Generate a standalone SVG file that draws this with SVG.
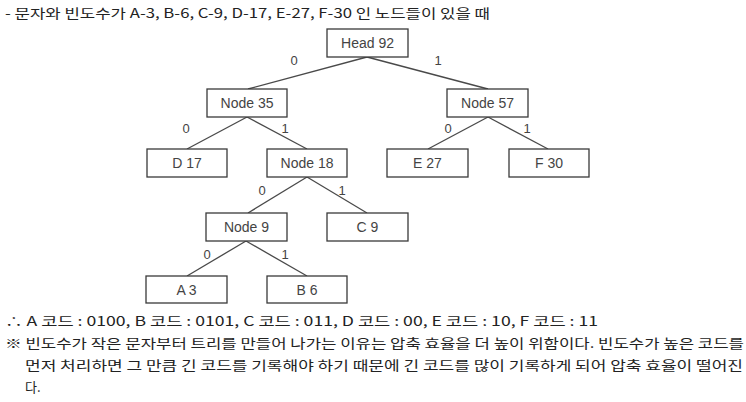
<svg xmlns="http://www.w3.org/2000/svg" width="746" height="402" viewBox="0 0 746 402">
<style>
.box{fill:#fff;stroke:#3a3a3a;stroke-width:1.3}
.lbl{font-family:"Liberation Sans",Arial,sans-serif;font-size:14px;fill:#444;text-anchor:middle}
.bit{font-family:"Liberation Sans",Arial,sans-serif;font-size:13px;fill:#444;text-anchor:middle}
.edge{stroke:#4a4a4a;stroke-width:1.3;fill:none}
.kr{font-family:"Noto Sans CJK KR","DejaVu Sans",sans-serif;font-size:13px;fill:#222}
</style>
<rect width="746" height="402" fill="#fff"/>
<text class="kr" x="5" y="18" textLength="485" lengthAdjust="spacingAndGlyphs">- 문자와 빈도수가 A-3, B-6, C-9, D-17, E-27, F-30 인 노드들이 있을 때</text>
<g id="connectors">
<line class="edge" x1="367" y1="57" x2="248" y2="89"/>
<line class="edge" x1="367" y1="57" x2="488" y2="89"/>
<line class="edge" x1="247" y1="117" x2="187" y2="149"/>
<line class="edge" x1="247" y1="117" x2="307" y2="149"/>
<line class="edge" x1="488" y1="117" x2="428" y2="149"/>
<line class="edge" x1="488" y1="117" x2="548" y2="149"/>
<line class="edge" x1="307" y1="177" x2="248" y2="213"/>
<line class="edge" x1="307" y1="177" x2="367" y2="213"/>
<line class="edge" x1="246" y1="241" x2="187" y2="276"/>
<line class="edge" x1="246" y1="241" x2="307" y2="276"/>
<text class="bit" x="294" y="65">0</text>
<text class="bit" x="438" y="65">1</text>
<text class="bit" x="186" y="133">0</text>
<text class="bit" x="285" y="133">1</text>
<text class="bit" x="448" y="133">0</text>
<text class="bit" x="527" y="133">1</text>
<text class="bit" x="262" y="195">0</text>
<text class="bit" x="342" y="195">1</text>
<text class="bit" x="207" y="259">0</text>
<text class="bit" x="285" y="259">1</text>
</g>
<g id="head"><rect class="box" x="327" y="29" width="81" height="28"/><text class="lbl" x="367.5" y="48">Head 92</text></g>
<g id="node35"><rect class="box" x="207" y="89" width="80" height="28"/><text class="lbl" x="247" y="108">Node 35</text></g>
<g id="node57"><rect class="box" x="447" y="89" width="81" height="28"/><text class="lbl" x="487.5" y="108">Node 57</text></g>
<g id="d17"><rect class="box" x="147" y="149" width="80" height="28"/><text class="lbl" x="187" y="168">D 17</text></g>
<g id="node18"><rect class="box" x="267" y="149" width="80" height="28"/><text class="lbl" x="307" y="168">Node 18</text></g>
<g id="e27"><rect class="box" x="387" y="149" width="81" height="28"/><text class="lbl" x="427.5" y="168">E 27</text></g>
<g id="f30"><rect class="box" x="509" y="149" width="80" height="28"/><text class="lbl" x="549" y="168">F 30</text></g>
<g id="node9"><rect class="box" x="206" y="213" width="81" height="28"/><text class="lbl" x="246.5" y="232">Node 9</text></g>
<g id="c9"><rect class="box" x="327" y="213" width="81" height="28"/><text class="lbl" x="367.5" y="232">C 9</text></g>
<g id="a3"><rect class="box" x="146" y="276" width="81" height="27"/><text class="lbl" x="186.5" y="295">A 3</text></g>
<g id="b6"><rect class="box" x="267" y="276" width="80" height="27"/><text class="lbl" x="307" y="295">B 6</text></g>
<text class="kr" x="5" y="326" textLength="593" lengthAdjust="spacingAndGlyphs">∴ A 코드 : 0100, B 코드 : 0101, C 코드 : 011, D 코드 : 00, E 코드 : 10, F 코드 : 11</text>
<text class="kr" x="5" y="348" textLength="739" lengthAdjust="spacingAndGlyphs">※ 빈도수가 작은 문자부터 트리를 만들어 나가는 이유는 압축 효율을 더 높이 위함이다. 빈도수가 높은 코드를</text>
<text class="kr" x="25" y="370" textLength="718" lengthAdjust="spacingAndGlyphs">먼저 처리하면 그 만큼 긴 코드를 기록해야 하기 때문에 긴 코드를 많이 기록하게 되어 압축 효율이 떨어진</text>
<text class="kr" x="25" y="392">다.</text>
</svg>
